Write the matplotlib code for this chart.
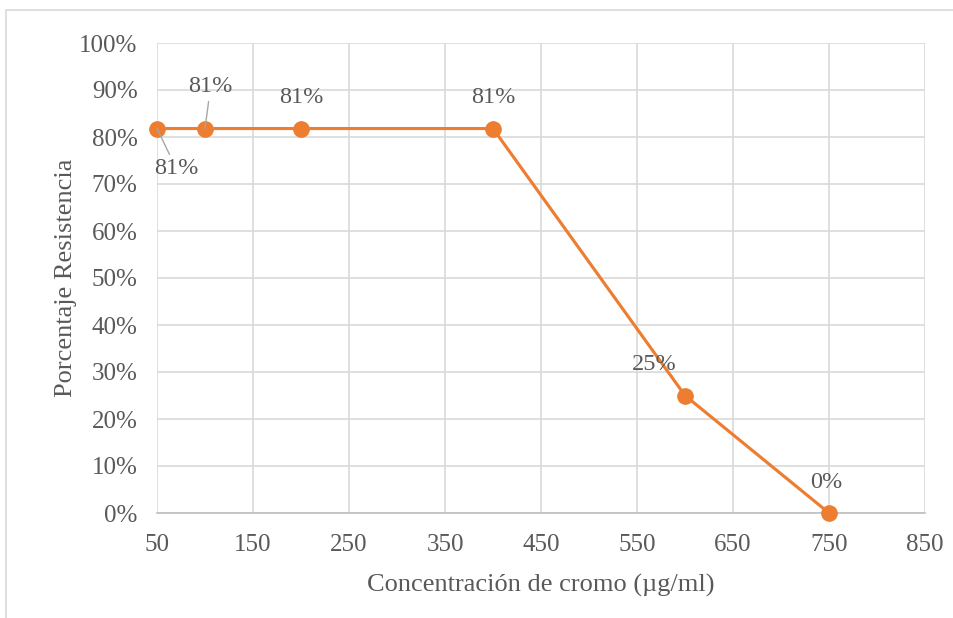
import matplotlib.pyplot as plt
from matplotlib.patches import Rectangle
from matplotlib.ticker import FuncFormatter

concentracion = [50, 100, 200, 400, 600, 750]
resistencia = [81.8, 81.8, 81.8, 81.8, 25, 0]
etiquetas = ['81%', '81%', '81%', '81%', '25%', '0%']
x_ticks = [50, 150, 250, 350, 450, 550, 650, 750, 850]
y_ticks = [0, 10, 20, 30, 40, 50, 60, 70, 80, 90, 100]

# label offsets in points, and whether a leader line is drawn
offsets = [(14, -29), (4, 30), (0, 22), (0, 22), (-22, 22), (-2, 22)]
leaders = [True, True, False, False, False, False]

plt.rcParams['font.family'] = ['Liberation Serif', 'DejaVu Serif']
gris = '#595959'
naranja = '#ED7D31'

fig = plt.figure(figsize=(9.54, 6.18), dpi=100)
ax = fig.add_axes([157 / 954, 105 / 618, 768 / 954, 470 / 618])

# outer chart border (partially visible)
fig.patches.append(Rectangle((6 / 954, -0.1), 1.2, (618 - 10) / 618 + 0.1,
                             transform=fig.transFigure, fill=False,
                             edgecolor='#D9D9D9', lw=1.2))

ax.plot(concentracion, resistencia, color=naranja, lw=2.25, marker='o',
        markersize=11, zorder=3, clip_on=False)

for x, y, txt, off, lead in zip(concentracion, resistencia, etiquetas, offsets, leaders):
    props = dict(arrowstyle='-', color='#A6A6A6', lw=1, shrinkA=1, shrinkB=0) if lead else None
    ax.annotate(txt, (x, y), xytext=off, textcoords='offset points',
                ha='center', va='center', fontsize=17.5, color=gris,
                arrowprops=props, zorder=5)

ax.set_xlim(50, 850)
ax.set_ylim(0, 100)
ax.set_xticks(x_ticks)
ax.set_yticks(y_ticks)
ax.yaxis.set_major_formatter(FuncFormatter(lambda v, p: f'{v:.0f}%'))
ax.tick_params(length=0, labelsize=18, labelcolor=gris)
ax.tick_params(axis='y', pad=14)
ax.tick_params(axis='x', pad=15)
ax.grid(True, color='#D9D9D9', lw=1.2)
ax.set_axisbelow(True)
for s in ['top', 'right', 'left']:
    ax.spines[s].set_visible(False)
ax.spines['bottom'].set_color('#BFBFBF')
ax.spines['bottom'].set_linewidth(1.2)

ax.set_xlabel('Concentración de cromo (µg/ml)', fontsize=19, color=gris, labelpad=13)
ax.set_ylabel('Porcentaje Resistencia', fontsize=19, color=gris, labelpad=1.5)

fig.savefig('out.png', dpi=100)
